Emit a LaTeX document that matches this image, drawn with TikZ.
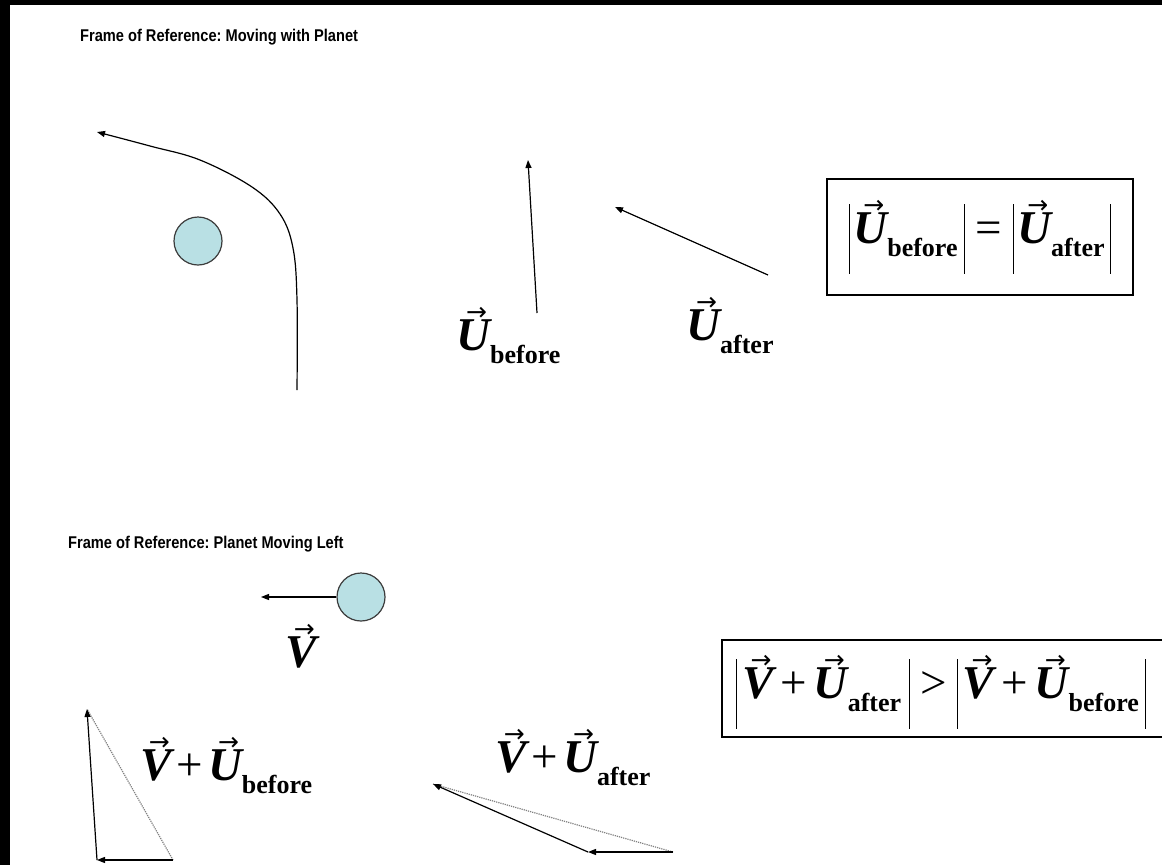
\documentclass[tikz,border=0pt]{standalone}
\usepackage{fontspec}
\setmainfont{Liberation Serif}
\newfontfamily\titlefont[FakeStretch=0.86]{Liberation Sans}
\newfontfamily\arrowfont{DejaVu Sans}
\usetikzlibrary{arrows.meta}
\definecolor{planetfill}{RGB}{185,224,228}
\definecolor{planetline}{RGB}{60,60,60}
\newcommand{\vecsym}[1]{{\setbox0=\hbox{\bfseries\itshape #1}\hbox to \wd0{\hss\kern7pt\raisebox{30pt}{\arrowfont\fontsize{25}{25}\selectfont →}\hss}\kern-\wd0\box0}}
\newcommand{\lsub}[1]{\raisebox{-13pt}{\fontsize{26}{26}\selectfont\bfseries #1}}
\newcommand{\absbar}{\raisebox{-30pt}{\rule{1.1pt}{70pt}}}
\newcommand{\plus}{\kern5pt+\kern5pt}
\newcommand{\wplus}{\kern7pt+\kern7pt}
\tikzset{
  arr/.style={line width=1.2pt,-{Triangle[length=8pt,width=6pt]}},
  dots/.style={line width=1.2pt,gray,densely dotted},
  planet/.style={circle,draw=planetline,line width=1.2pt,fill=planetfill,minimum size=48pt,inner sep=0pt},
  ttl/.style={anchor=base west,inner sep=0pt,font=\titlefont\bfseries\frenchspacing\fontsize{17}{17}\selectfont},
  lbl/.style={anchor=base west,inner sep=0pt,font=\fontsize{47}{47}\selectfont},
  eqbox/.style={draw,line width=1.1pt,minimum width=306pt,minimum height=116pt,inner sep=0pt,font=\fontsize{47}{47}\selectfont}
}
\begin{document}
\begin{tikzpicture}[x=1pt,y=-1pt]
\useasboundingbox (0,0) rectangle (1162,865);
\begin{scope}
\clip (0,0) rectangle (1162,865);
\fill[white] (0,0) rectangle (1162,865);
\fill[black] (0,0) rectangle (1162,5);
\fill[black] (0,0) rectangle (10,865);

% ---------- top section ----------
\node[ttl] (t1) at (80,41) {Frame of Reference: Moving with Planet};
\node[planet] (p1) at (198,241) {};
\draw[arr] plot[smooth,tension=0.6] coordinates {(297,390) (297,300) (293,248) (280,214) (252,187) (200,160) (150,146) (97,132)};

\coordinate (ub0) at (537,313);
\coordinate (ub1) at (528,160);
\draw[arr] (ub0) -- (ub1);
\coordinate (ua0) at (768,275);
\coordinate (ua1) at (615,207);
\draw[arr] (ua0) -- (ua1);
\node[lbl] (lub) at (456,350) {\vecsym{U}\lsub{before}};
\node[lbl] (lua) at (686,340) {\vecsym{U}\lsub{after}};

\node[eqbox] (box1) at (980,237) {\absbar\kern3pt\vecsym{U}\lsub{before}\kern6pt\absbar\kern11pt=\kern11pt\absbar\kern3pt\vecsym{U}\lsub{after}\kern5pt\absbar};

% ---------- bottom section ----------
\node[ttl] (t2) at (68,548) {Frame of Reference: Planet Moving Left};
\node[planet] (p2) at (361,597) {};
\coordinate (vt) at (261,597);
\draw[arr] (p2.west) -- (vt);
\node[lbl] (lv) at (285,667) {\vecsym{V}};

% triangle before
\coordinate (a1) at (173,860);
\coordinate (b1) at (97,860);
\coordinate (c1t) at (87,709);
\draw[dots] (a1) -- (c1t);
\draw[arr] (a1) -- (b1);
\draw[arr] (b1) -- (c1t);
\node[lbl] (lvb) at (140,780) {\vecsym{V}\plus\vecsym{U}\lsub{before}};

% triangle after
\coordinate (a2) at (673,852);
\coordinate (b2) at (588,852);
\coordinate (c2t) at (433,784);
\draw[dots] (a2) -- (c2t);
\draw[arr] (a2) -- (b2);
\draw[arr] (b2) -- (c2t);
\node[lbl] (lva) at (495,772) {\vecsym{V}\plus\vecsym{U}\lsub{after}};

\draw[line width=1.1pt] (1175,640) -- (722,640) -- (722,737) -- (1175,737);
\node[anchor=center,inner sep=0pt,font=\fontsize{47}{47}\selectfont] (eq2) at (941,692) {\absbar\kern5pt\vecsym{V}\wplus\vecsym{U}\lsub{after}\kern8pt\absbar\kern10pt>\kern10pt\absbar\kern5pt\vecsym{V}\wplus\vecsym{U}\lsub{before}\kern6pt\absbar};
\end{scope}
\end{tikzpicture}
\end{document}
